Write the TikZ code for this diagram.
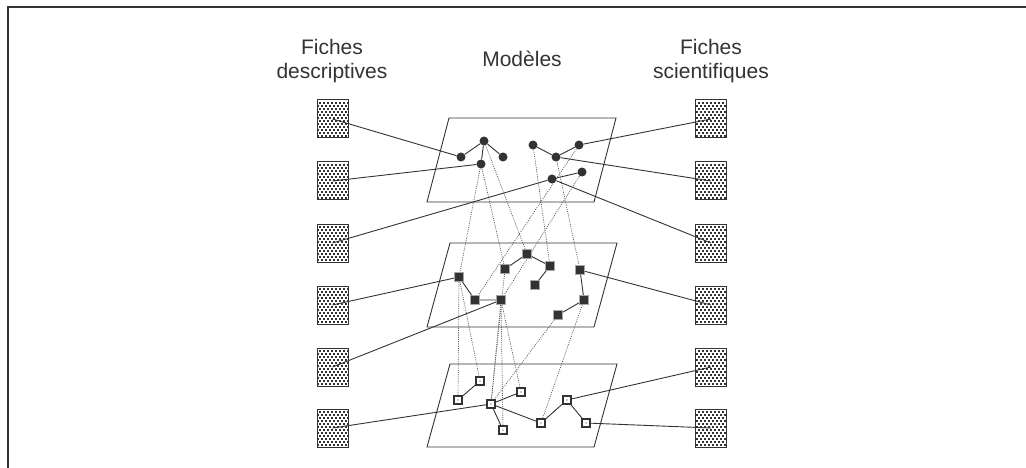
\documentclass[tikz,border=0pt]{standalone}
\usepackage{fontspec}
\setmainfont{Liberation Sans}
\pgfdeclarelayer{planes}
\pgfdeclarelayer{links}
\pgfsetlayers{planes,links,main}
\definecolor{ink}{HTML}{333333}
\definecolor{linkgray}{HTML}{555555}
\tikzset{
  heading/.style={font=\fontsize{21}{23.5}\selectfont, text=ink, align=center, inner sep=0pt},
  sheet/.style={draw=ink, line width=1pt, fill=white, minimum width=31pt,
    minimum height=38pt, inner sep=0pt,
    path picture={
      \foreach \k in {1,...,12}{
        \pgfmathsetmacro\ph{mod(\k,2)*2}
        \draw[ink, line width=1.3pt, dash pattern=on 2pt off 2pt, dash phase=\ph pt]
          ([yshift=-\k*3pt]path picture bounding box.north west) --
          ([yshift=-\k*3pt]path picture bounding box.north east);
      }
    }},
  plane/.style={draw=ink, line width=0.9pt, fill=white},
  dotnode/.style={circle, fill=ink, inner sep=0pt, minimum size=9pt},
  fullsq/.style={rectangle, fill=ink, draw=gray!70, line width=0.6pt, inner sep=0pt, minimum size=9pt},
  hollowsq/.style={rectangle, draw=ink, line width=1.5pt, fill=white, inner sep=0pt, minimum size=8pt,
    path picture={\fill[ink] (path picture bounding box.center) circle (0.6pt);}},
  wire/.style={draw=ink, line width=0.9pt},
  trace/.style={draw=linkgray, line width=0.7pt, dash pattern=on 1pt off 1.2pt},
}
\begin{document}
\begin{tikzpicture}[x=1pt, y=-1pt]
\useasboundingbox (0,0) rectangle (1026,468);

% outer frame (top and left edges)
\draw[ink, line width=2pt] (1026,7.5) -- (7.5,7.5) -- (7.5,468);

% column headings (base anchor sits on the last line)
\node[heading, anchor=base] (hdesc) at (332,78.5) {Fiches\\descriptives};
\node[heading, anchor=base] (hmod) at (522,66.5) {Modèles};
\node[heading, anchor=base] (hsci) at (711,78.5) {Fiches\\scientifiques};

\begin{pgfonlayer}{planes}
  % three model planes
  \draw[plane] (449,118) -- (616,118) -- (594,202) -- (427,202) -- cycle;
  \draw[plane] (450,243) -- (617,243) -- (594,327) -- (427,327) -- cycle;
  \draw[plane] (450,364) -- (617,364) -- (594,447) -- (427,447) -- cycle;
  % record sheets
  \foreach \i/\y in {1/119,2/181,3/243,4/305,5/367,6/428}{
    \node[sheet] (L\i) at (332.5,\y) {};
    \node[sheet] (R\i) at (711,\y) {};
  }
\end{pgfonlayer}

% upper plane: circles
\node[dotnode] (a1) at (461,157) {};
\node[dotnode] (a2) at (484,141) {};
\node[dotnode] (a3) at (503,157) {};
\node[dotnode] (a4) at (481,164) {};
\node[dotnode] (b1) at (533,145) {};
\node[dotnode] (b2) at (556,157) {};
\node[dotnode] (b3) at (579,145) {};
\node[dotnode] (c1) at (552,179) {};
\node[dotnode] (c2) at (582,172) {};

% middle plane: filled squares
\node[fullsq] (d1) at (459,277) {};
\node[fullsq] (d2) at (475,300) {};
\node[fullsq] (d3) at (501,300) {};
\node[fullsq] (e1) at (505,269) {};
\node[fullsq] (e2) at (527,254) {};
\node[fullsq] (e3) at (550,266) {};
\node[fullsq] (e4) at (535,285) {};
\node[fullsq] (f1) at (580,270) {};
\node[fullsq] (f2) at (584,300) {};
\node[fullsq] (f3) at (558,315) {};

% lower plane: hollow squares
\node[hollowsq] (g1) at (458,400) {};
\node[hollowsq] (g2) at (480,381) {};
\node[hollowsq] (g3) at (491,404) {};
\node[hollowsq] (g4) at (521,392) {};
\node[hollowsq] (g5) at (503,430) {};
\node[hollowsq] (g6) at (541,423) {};
\node[hollowsq] (g7) at (567,400) {};
\node[hollowsq] (g8) at (586,423) {};

\begin{pgfonlayer}{links}
  % edges inside each plane
  \draw[wire] (a1) -- (a2) -- (a3);
  \draw[wire] (a2) -- (a4);
  \draw[wire] (b1) -- (b2) -- (b3);
  \draw[wire] (c1) -- (c2);
  \draw[wire] (d1) -- (d2) -- (d3);
  \draw[wire] (e1) -- (e2) -- (e3) -- (e4);
  \draw[wire] (f1) -- (f2) -- (f3);
  \draw[wire] (g1) -- (g2);
  \draw[wire] (g3) -- (g4);
  \draw[wire] (g3) -- (g5);
  \draw[wire] (g3) -- (g6) -- (g7) -- (g8);

  % sheets to model elements
  \draw[wire] (L1.center) -- (a1);
  \draw[wire] (L2.center) -- (a4);
  \draw[wire] (L3.center) -- (c1);
  \draw[wire] (L4.center) -- (d1);
  \draw[wire] (L5.center) -- (d3);
  \draw[wire] (L6.center) -- (g3);
  \draw[wire] (R1.center) -- (b3);
  \draw[wire] (R2.center) -- (b2);
  \draw[wire] (R3.center) -- (c1);
  \draw[wire] (R4.center) -- (f1);
  \draw[wire] (R5.center) -- (g7);
  \draw[wire] (R6.center) -- (g8);

  % links between planes
  \draw[trace] (a4) -- (d1);
  \draw[trace] (a4) -- (e1);
  \draw[trace] (a2) -- (e2);
  \draw[trace] (b1) -- (e3);
  \draw[trace] (b2) -- (f1);
  \draw[trace] (b3) -- (d2);
  \draw[trace] (c2) -- (d3);
  \draw[trace] (d1) -- (g1);
  \draw[trace] (d1) -- (g2);
  \draw[trace] (d3) -- (g3);
  \draw[trace] (d3) -- (g5);
  \draw[trace] (d3) -- (g4);
  \draw[trace] (e1) -- (g3);
  \draw[trace] (f3) -- (g3);
  \draw[trace] (f2) -- (g6);
\end{pgfonlayer}
\end{tikzpicture}
\end{document}
